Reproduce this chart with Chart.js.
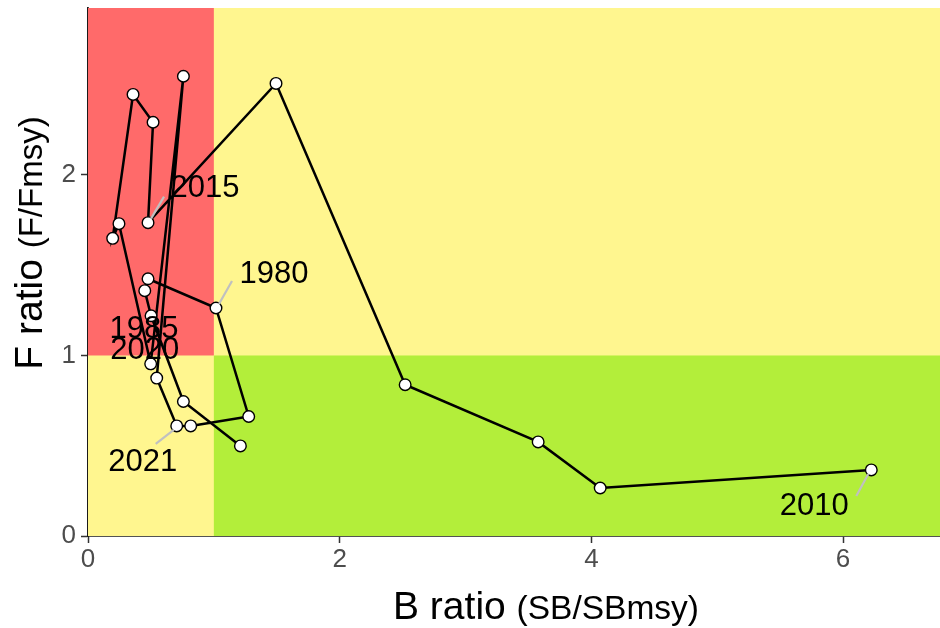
<!DOCTYPE html>
<html>
<head>
<meta charset="utf-8">
<script src="https://cdn.jsdelivr.net/npm/chart.js@4.4.1/dist/chart.umd.min.js"></script>
<style>
  html, body { margin: 0; padding: 0; background: #ffffff; }
  #wrap { width: 940px; height: 628px; }
</style>
</head>
<body>
<div id="wrap"><canvas id="c" width="940" height="628"></canvas></div>
<script>
// ---- data, in path order ----
const bRatio = [6.224, 4.070, 3.577, 2.520, 1.494, 0.477, 0.517, 0.358, 0.196, 0.246, 0.498,
                0.758, 0.546, 0.705, 0.816, 1.277, 1.017, 0.477, 0.451, 0.501, 0.758, 1.211];
const fRatio = [0.366, 0.266, 0.521, 0.838, 2.507, 1.736, 2.292, 2.446, 1.649, 1.730, 0.954,
                2.547, 0.875, 0.610, 0.610, 0.662, 1.263, 1.425, 1.359, 1.220, 0.745, 0.499];
const yearLabels = ['2010', '', '', '', '', '2015', '', '', '', '', '2020',
                    '', '', '2021', '', '', '1980', '', '', '1985', '', ''];
const xTicks = [0, 2, 4, 6];
const yTicks = [0, 1, 2];
const bRef = 1;   // SB/SBmsy = 1
const fRef = 1;   // F/Fmsy = 1
const xMax = 6.77;
const yMax = 2.925;

// ---- label placement (pixel offsets of text centre and leader end from the point) ----
const labelPlacement = {
  '2010': { dx: -57, dy: 37, lx: -15, ly: 26 },
  '2015': { dx: 57, dy: -34, lx: 16, ly: -26 },
  '2020': { dx: -6, dy: -13, lx: 0, ly: 0 },
  '2021': { dx: -34, dy: 37, lx: -21, ly: 18 },
  '1980': { dx: 58, dy: -34, lx: 16, ly: -27 },
  '1985': { dx: -7, dy: 14, lx: 0, ly: 0 }
};

const FONT = '"Liberation Sans", Arial, Helvetica, sans-serif';

const zonesPlugin = {
  id: 'zones',
  beforeDatasetsDraw(chart) {
    const { ctx, chartArea: a, scales: { x, y } } = chart;
    const xr = x.getPixelForValue(bRef);
    const yr = y.getPixelForValue(fRef);
    ctx.save();
    ctx.fillStyle = '#FFF68F';          // yellow
    ctx.fillRect(a.left, a.top, a.right - a.left, a.bottom - a.top);
    ctx.fillStyle = '#FF6A6A';          // red
    ctx.fillRect(a.left, a.top, xr - a.left, yr - a.top);
    ctx.fillStyle = '#B3EE3A';          // green
    ctx.fillRect(xr, yr, a.right - xr, a.bottom - yr);
    ctx.restore();
  }
};

const labelsPlugin = {
  id: 'yearLabels',
  afterDatasetsDraw(chart) {
    const { ctx } = chart;
    const meta = chart.getDatasetMeta(0);
    ctx.save();
    ctx.font = '31px ' + FONT;
    ctx.textAlign = 'center';
    ctx.textBaseline = 'middle';
    yearLabels.forEach((lab, i) => {
      if (!lab) return;
      const p = meta.data[i];
      const pl = labelPlacement[lab];
      if (pl.lx || pl.ly) {
        ctx.strokeStyle = '#C0C0C0';
        ctx.lineWidth = 2.2;
        ctx.beginPath();
        ctx.moveTo(p.x + Math.sign(pl.lx) * 3, p.y + Math.sign(pl.ly) * 4);
        ctx.lineTo(p.x + pl.lx, p.y + pl.ly);
        ctx.stroke();
      }
      ctx.fillStyle = '#000000';
      ctx.fillText(lab, p.x + pl.dx, p.y + pl.dy);
    });
    ctx.restore();
  }
};

function drawMixed(ctx, big, small, bigSize, smallSize) {
  ctx.font = bigSize + 'px ' + FONT;
  const w1 = ctx.measureText(big + ' ').width;
  ctx.font = smallSize + 'px ' + FONT;
  const w2 = ctx.measureText(small).width;
  const total = w1 + w2;
  ctx.textAlign = 'left';
  ctx.textBaseline = 'alphabetic';
  ctx.fillStyle = '#000000';
  ctx.font = bigSize + 'px ' + FONT;
  ctx.fillText(big, -total / 2, 0);
  ctx.font = smallSize + 'px ' + FONT;
  ctx.fillText(small, -total / 2 + w1, 0);
}

const titlesPlugin = {
  id: 'axisTitles',
  afterDraw(chart) {
    const { ctx } = chart;
    ctx.save();
    ctx.translate(546, 619);
    drawMixed(ctx, 'B ratio', '(SB/SBmsy)', 39, 33.5);
    ctx.restore();
    ctx.save();
    ctx.translate(42, 243);
    ctx.rotate(-Math.PI / 2);
    drawMixed(ctx, 'F ratio', '(F/Fmsy)', 39, 33);
    ctx.restore();
  }
};

function noPad(s) {
  s.paddingTop = 0; s.paddingBottom = 0; s.paddingLeft = 0; s.paddingRight = 0;
}

const points = bRatio.map((b, i) => ({ x: b, y: fRatio[i] }));

new Chart(document.getElementById('c'), {
  type: 'scatter',
  data: {
    datasets: [{
      data: points,
      showLine: true,
      borderColor: '#000000',
      borderWidth: 2.5,
      pointBackgroundColor: '#ffffff',
      pointBorderColor: '#000000',
      pointBorderWidth: 1.4,
      pointRadius: 5.8,
      tension: 0
    }]
  },
  options: {
    responsive: false,
    animation: false,
    events: [],
    layout: { autoPadding: false, padding: { top: 8, right: 0, left: 0, bottom: 0 } },
    plugins: { legend: { display: false }, tooltip: { enabled: false } },
    scales: {
      x: {
        type: 'linear',
        min: 0, max: xMax,
        afterFit(s) { s.height = 92; noPad(s); },
        afterBuildTicks(s) { s.ticks = xTicks.map(v => ({ value: v })); },
        grid: { drawOnChartArea: false, drawTicks: true, tickLength: 7, tickColor: '#333333', tickWidth: 1.5 },
        border: { display: true, color: '#1a1a1a', width: 1.8 },
        ticks: { font: { family: FONT, size: 26 }, color: '#4D4D4D', padding: 1, maxRotation: 0 }
      },
      y: {
        type: 'linear',
        min: 0, max: yMax,
        afterFit(s) { s.width = 88; noPad(s); },
        afterBuildTicks(s) { s.ticks = yTicks.map(v => ({ value: v })); },
        grid: { drawOnChartArea: false, drawTicks: true, tickLength: 7, tickColor: '#333333', tickWidth: 1.5 },
        border: { display: true, color: '#1a1a1a', width: 1.8 },
        ticks: { font: { family: FONT, size: 26 }, color: '#4D4D4D', padding: 5 }
      }
    }
  },
  plugins: [zonesPlugin, labelsPlugin, titlesPlugin]
});
</script>
</body>
</html>
